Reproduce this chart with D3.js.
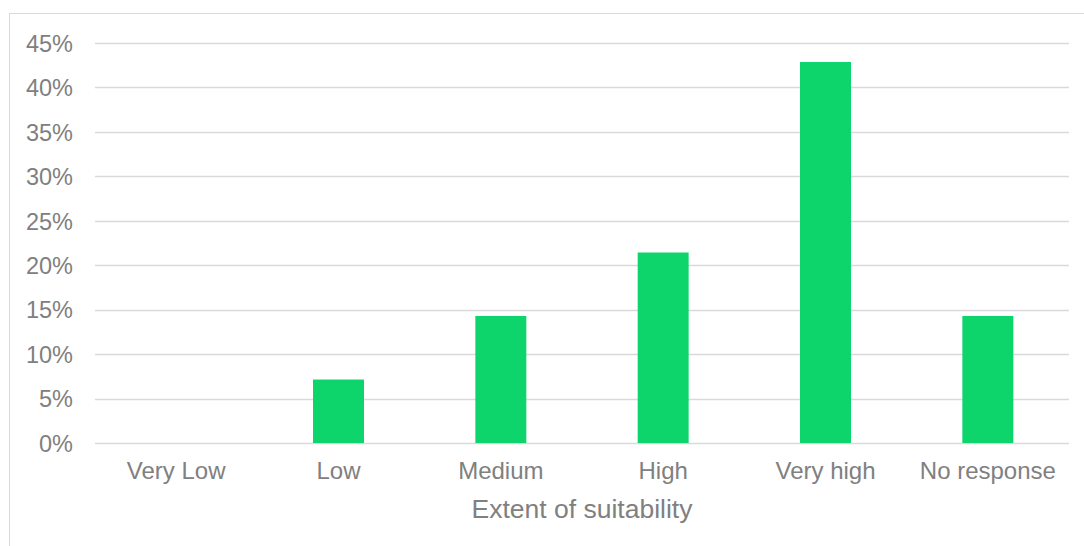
<!DOCTYPE html>
<html>
<head>
<meta charset="utf-8">
<script src="https://cdn.jsdelivr.net/npm/d3@7"></script>
<style>
  html, body { margin: 0; padding: 0; background: #fff; }
  svg { display: block; }
</style>
</head>
<body>
<svg id="chart" width="1084" height="546"></svg>
<script>
// Share of responses by extent of suitability
const categories = ["Very Low", "Low", "Medium", "High", "Very high", "No response"];
const shares = [0, 7.14, 14.29, 21.43, 42.86, 14.29];
const yTicks = [0, 5, 10, 15, 20, 25, 30, 35, 40, 45];
const xTitle = "Extent of suitability";

const svg = d3.select("#chart");
const W = 1084, H = 546;
const plot = { left: 95, right: 1069, top: 43, bottom: 443 };
const textColor = "#808080";
const font = "'Liberation Sans', Arial, sans-serif";

// Outer chart frame
svg.append("rect")
  .attr("x", 9.5).attr("y", 13.5)
  .attr("width", W + 20).attr("height", H + 20)
  .attr("fill", "#fff").attr("stroke", "#d9d9d9").attr("stroke-width", 1);

const x = d3.scaleBand()
  .domain(categories)
  .range([plot.left, plot.right])
  .paddingInner(0.686).paddingOuter(0.343);

const y = d3.scaleLinear().domain([0, 45]).range([plot.bottom, plot.top]);

// Horizontal gridlines
svg.append("g")
  .selectAll("line")
  .data(yTicks)
  .join("line")
  .attr("x1", plot.left).attr("x2", plot.right)
  .attr("y1", d => Math.round(y(d)) + 0.5).attr("y2", d => Math.round(y(d)) + 0.5)
  .attr("stroke", "#d9d9d9").attr("stroke-width", 1.3);

// Y axis labels
const yAxis = svg.append("g")
  .attr("transform", `translate(${plot.left - 22},0)`)
  .call(d3.axisLeft(y).tickValues(yTicks).tickFormat(d => d + "%").tickSize(0).tickPadding(0));
yAxis.select(".domain").remove();
yAxis.selectAll("text")
  .attr("fill", textColor).attr("font-size", 23.5).attr("font-family", font)
  .attr("dy", "0.35em");

// Bars
svg.append("g")
  .selectAll("rect")
  .data(categories.map((c, i) => ({ c, v: shares[i] })))
  .join("rect")
  .attr("x", d => x(d.c))
  .attr("width", x.bandwidth())
  .attr("y", d => y(d.v))
  .attr("height", d => y(0) - y(d.v))
  .attr("fill", "#0dd46b");

// X axis labels
const xAxis = svg.append("g")
  .attr("transform", `translate(0,471)`)
  .call(d3.axisBottom(x).tickSize(0).tickPadding(0));
xAxis.select(".domain").remove();
xAxis.selectAll("text")
  .attr("fill", textColor).attr("font-size", 24).attr("font-family", font)
  .attr("dy", "0.35em");

// X axis title
svg.append("text")
  .attr("x", 582)
  .attr("y", 509)
  .attr("dy", "0.35em")
  .attr("text-anchor", "middle")
  .attr("fill", textColor).attr("font-size", 26.5).attr("font-family", font)
  .text(xTitle);
</script>
</body>
</html>
